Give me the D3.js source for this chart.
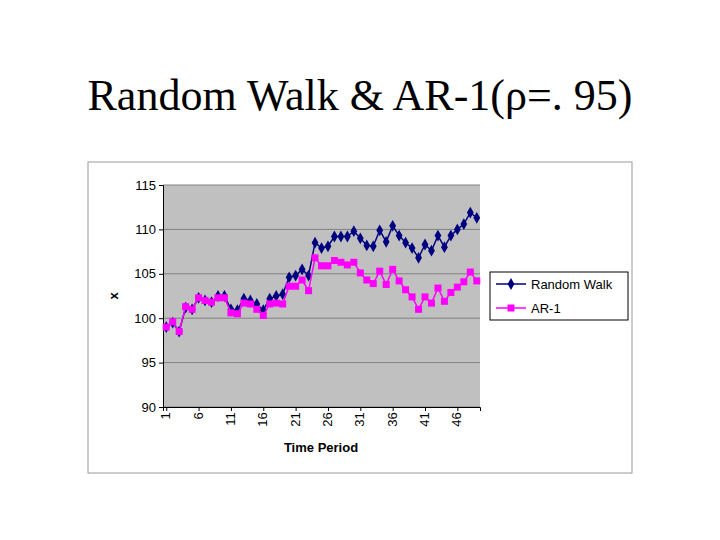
<!DOCTYPE html>
<html><head><meta charset="utf-8">
<script src="https://cdn.jsdelivr.net/npm/d3@7"></script>
<style>body{margin:0;background:#fff}</style></head>
<body><svg id="c" width="720" height="540"></svg>
<script>
const randomWalk=[99.0,99.5,98.5,101.2,101.0,102.3,102.0,101.8,102.5,102.5,101.0,100.9,102.2,102.0,101.6,100.9,102.2,102.5,102.7,104.6,104.8,105.5,104.8,108.5,107.9,108.1,109.2,109.2,109.2,109.8,109.0,108.2,108.1,109.9,108.6,110.4,109.3,108.5,107.9,106.8,108.3,107.6,109.3,108.0,109.3,110.0,110.6,111.9,111.3];
const ar1=[99.0,99.6,98.5,101.3,101.0,102.3,102.0,101.8,102.3,102.3,100.6,100.5,101.7,101.6,101.0,100.3,101.6,101.7,101.6,103.6,103.6,104.3,103.1,106.8,105.9,105.9,106.5,106.3,106.0,106.3,105.1,104.3,103.9,105.3,103.8,105.5,104.2,103.2,102.4,101.0,102.4,101.7,103.4,101.9,102.9,103.5,104.1,105.2,104.2];
const yTicks=[90,95,100,105,110,115];
const xTicks=[1,6,11,16,21,26,31,36,41,46];
const seriesNames=["Random Walk","AR-1"];
const svg=d3.select("#c");
svg.append("text").attr("x",360).attr("y",110).attr("text-anchor","middle")
 .attr("font-family","Liberation Serif").attr("font-size",44).attr("textLength",545).text("Random Walk & AR-1(ρ=. 95)");
svg.append("rect").attr("x",88).attr("y",162).attr("width",544).attr("height",311).attr("fill","#fff").attr("stroke","#999");
const L=163,R=480,T=185,B=407;
const x=d3.scaleLinear().domain([0.5,49.5]).range([L,R]);
const y=d3.scaleLinear().domain([90,115]).range([B,T]);
svg.append("rect").attr("x",L).attr("y",T).attr("width",R-L).attr("height",B-T).attr("fill","#c0c0c0");
svg.append("g").selectAll("line").data(yTicks).join("line").attr("x1",L).attr("x2",R)
 .attr("y1",d=>y(d)).attr("y2",d=>y(d)).attr("stroke","#808080");
const ya=svg.append("g").attr("transform",`translate(${L},0)`).call(d3.axisLeft(y).tickValues(yTicks).tickSize(4));
ya.selectAll("text").attr("font-family","Liberation Sans").attr("font-size",13).attr("fill","#000");
const xa=svg.append("g").attr("transform",`translate(0,${B})`).call(d3.axisBottom(x).tickValues(xTicks).tickSize(4).tickFormat(d3.format("d")));
xa.selectAll("text").attr("font-family","Liberation Sans").attr("font-size",13).attr("fill","#000")
 .attr("transform","rotate(-90)").attr("text-anchor","end").attr("dx","-0.4em").attr("dy","-0.35em").attr("x",0).attr("y",8);
svg.selectAll(".domain").attr("stroke","#000");
svg.append("text").attr("x",321).attr("y",452).attr("text-anchor","middle").attr("font-family","Liberation Sans").attr("font-weight","bold").attr("font-size",13).text("Time Period");
svg.append("text").attr("transform","translate(118,296) rotate(-90)").attr("text-anchor","middle").attr("font-family","Liberation Sans").attr("font-weight","bold").attr("font-size",13).text("x");
const line=d3.line().x((d,i)=>x(i+1)).y(d=>y(d));
const cols=["#000080","#ff00ff"];
[randomWalk,ar1].forEach((s,k)=>{
 svg.append("path").attr("d",line(s)).attr("fill","none").attr("stroke",cols[k]).attr("stroke-width",1.5);
 const g=svg.append("g");
 if(k===0) g.selectAll("path").data(s).join("path").attr("d",d3.symbol(d3.symbolDiamond,40)).attr("transform",(d,i)=>`translate(${x(i+1)},${y(d)})`).attr("fill",cols[0]);
 else g.selectAll("rect").data(s).join("rect").attr("x",(d,i)=>x(i+1)-3.5).attr("y",d=>y(d)-3.5).attr("width",7).attr("height",7).attr("fill",cols[1]);
});
svg.append("rect").attr("x",490).attr("y",272).attr("width",138).attr("height",48).attr("fill","#fff").attr("stroke","#000");
seriesNames.forEach((n,k)=>{
 const yy=284+k*24;
 svg.append("line").attr("x1",496).attr("x2",526).attr("y1",yy).attr("y2",yy).attr("stroke",cols[k]).attr("stroke-width",1.5);
 if(k===0) svg.append("path").attr("d",d3.symbol(d3.symbolDiamond,40)).attr("transform",`translate(511,${yy})`).attr("fill",cols[0]);
 else svg.append("rect").attr("x",507.5).attr("y",yy-3.5).attr("width",7).attr("height",7).attr("fill",cols[1]);
 svg.append("text").attr("x",531).attr("y",yy+5).attr("font-family","Liberation Sans").attr("font-size",13).text(n);
});
</script></body></html>
